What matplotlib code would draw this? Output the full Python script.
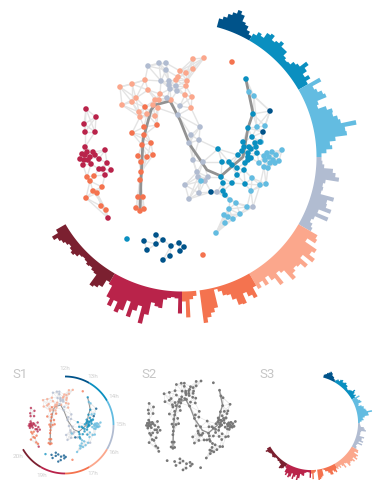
import numpy as np
import matplotlib
matplotlib.use("Agg")
import matplotlib.pyplot as plt

plt.rcParams['font.family'] = ['Roboto', 'DejaVu Sans']

# ---- radial histogram, one list per hour band (bar length in px, 1.5 degree bins)
navy_vals = [9, 12, 16, 19, 23, 20, 14, 12, 8, 5]
blue_vals = [8, 12, 10, 16, 18, 13, 15, 18, 14, 14, 9, 7, 8, 12, 14, 22, 17, 12, 16, 11]
sky_vals = [24, 14, 16, 20, 22, 12, 10, 18, 23, 22, 26, 28, 43, 31, 32, 20, 14, 16, 10, 5]
grey_vals = [5, 6, 8, 17, 20, 24, 11, 9, 10, 9, 23, 17, 18, 24, 12, 24, 11, 9, 12, 14]
salmon_vals = [22, 24, 15, 29, 26, 33, 21, 31, 25, 23, 26, 31, 18, 15, 27, 18, 12, 19, 13, 18]
orange_vals = [14, 24, 20, 15, 25, 24, 17, 11, 10, 5, 2, 20, 24, 28, 33, None, 5, 8, 26, 10]
crimson_vals = [22, 7, 6, 7, 9, 18, 17, 14, 27, 37, 20, 26, 34, 19, 30, 34, 24, 31, 24, 12]
dark_vals = [10, 18, 21, 23, 11, 10, 8, 9, 7, 6, 7, 10, 12, 10, 8, 10, 12, 14, 18, 11]

band_starts = [15, 30, 60, 90, 120, 150, 180, 210]
band_vals = [navy_vals, blue_vals, sky_vals, grey_vals, salmon_vals, orange_vals, crimson_vals, dark_vals]
band_colors = ['#00538a', '#0a8fc0', '#63bce1', '#b1bcd1', '#fba78c', '#f4734f', '#b9234a', '#7b2030']

# ---- network nodes, px position in the big picture
crimson_x = [85, 95, 85, 105, 82, 87, 93, 85, 80, 84, 90, 95, 99, 88, 83, 91, 107, 99, 103, 111, 105, 108, 86, 96, 84]
crimson_y = [132, 132, 147, 150, 154, 152, 152, 155, 159, 160, 157, 155, 159, 160, 165, 164, 163, 169, 169, 170, 175, 218, 109, 117, 124]
left_orange_x = [87, 90, 94, 102, 93, 97, 86, 101, 106]
left_orange_y = [177, 181, 176, 187, 191, 193, 198, 206, 210]
orange_x = [132, 144, 142, 151, 138, 147, 153, 141, 141, 140, 138, 143, 136, 144, 140, 145, 157, 144]
orange_y = [133, 135, 145, 143, 156, 157, 155, 162, 172, 180, 197, 197, 208, 209, 211, 107, 125, 127]
salmon_x = [120, 132, 145, 148, 136, 122, 132, 139, 140, 155, 158, 153, 155, 159, 160, 171, 185, 192, 191, 186, 187, 186, 180, 178, 176, 193, 193, 204, 147]
salmon_y = [87, 84, 80, 90, 98, 105, 102, 112, 117, 116, 108, 105, 100, 100, 94, 100, 95, 97, 108, 86, 81, 73, 71, 77, 80, 69, 59, 58, 114]
grey_x = [148, 159, 166, 166, 161, 169, 169, 170, 176, 177, 167, 180, 178, 200, 191, 199, 189, 193, 203, 197, 198, 205, 208, 185, 199, 189, 217, 253]
grey_y = [66, 63, 63, 70, 81, 81, 85, 89, 86, 91, 98, 106, 115, 127, 135, 140, 143, 160, 162, 172, 177, 181, 177, 185, 193, 199, 192, 207]
navy_x = [270, 263, 211]
navy_y = [111, 132, 192]
blue_x = [246, 253, 248, 252, 243, 255, 260, 244, 249, 251, 256, 242, 248, 238, 218, 257, 251, 248, 245, 222, 229, 232, 237, 244, 237, 221, 223, 232, 245, 223, 225, 248]
blue_y = [79, 114, 128, 137, 142, 143, 142, 147, 147, 149, 147, 151, 153, 155, 149, 153, 158, 160, 163, 162, 162, 165, 168, 170, 175, 177, 183, 183, 184, 191, 195, 157]
sky_x = [249, 254, 257, 265, 261, 282, 267, 272, 276, 264, 269, 273, 279, 259, 265, 270, 275, 264, 268, 252, 260, 266, 251, 201, 230, 236, 229, 247, 224, 228, 233, 240, 225, 216]
sky_y = [92, 96, 127, 126, 142, 150, 153, 152, 155, 156, 157, 160, 161, 163, 160, 163, 163, 167, 168, 178, 185, 184, 191, 181, 200, 203, 209, 207, 215, 217, 219, 214, 223, 233]
sea_x = [144, 156, 163, 156, 147, 171, 179, 184, 180, 170, 163]
sea_y = [241, 235, 240, 244, 250, 246, 243, 247, 251, 256, 260]

# points with no links
lone_x = [232, 127, 203]
lone_y = [62, 239, 255]
lone_colors = ['#f4734f', '#0a8fc0', '#f4734f']

# the average route through the hours
route_x = [140, 141, 143, 151, 155, 170, 180, 190, 207, 221, 243, 248, 253, 246]
route_y = [211, 180, 140, 110, 105, 101, 120, 145, 170, 176, 157, 128, 113, 80]

groups = [(crimson_x, crimson_y, '#b9234a'), (left_orange_x, left_orange_y, '#f4734f'), (orange_x, orange_y, '#f4734f'),
          (salmon_x, salmon_y, '#fba78c'), (grey_x, grey_y, '#b1bcd1'), (sky_x, sky_y, '#63bce1'),
          (blue_x, blue_y, '#0a8fc0'), (navy_x, navy_y, '#00538a'), (sea_x, sea_y, '#00538a')]

hour_labels = ['12h', '13h', '14h', '15h', '16h', '17h', '19h', '20h']
hour_angles = [0, 30, 60, 90, 120, 150, 205, 236]

W, H = 379, 480
fig = plt.figure(figsize=(W / 100, H / 100), dpi=100)


def radial_hist(cx, cy, scale):
    rmax = 190
    size = 2 * rmax * scale
    ax = fig.add_axes([(cx - size / 2) / W, (H - cy - size / 2) / H, size / W, size / H], projection='polar')
    ax.set_theta_zero_location('N')
    ax.set_theta_direction(-1)
    ax.set_rlim(0, rmax)
    ax.axis('off')
    R = 134.5
    bin_w = 1.5
    for start, vals, col in zip(band_starts, band_vals, band_colors):
        # stepped outline, one piece per run of bins (a None leaves a gap)
        run_t, run_v = [], []
        for i, v in enumerate(vals + [None]):
            if v is None:
                if run_t:
                    t = np.deg2rad(np.array(run_t))
                    r = R + np.array(run_v, dtype=float)
                    ax.fill(np.r_[t, t[::-1]], np.r_[r, np.full(len(t), R)], color=col, lw=0)
                run_t, run_v = [], []
                continue
            for sub in np.linspace(0, bin_w, 4):
                run_t.append(start + bin_w * i + sub)
                run_v.append(v)
    return ax


def find_edges(xs, ys, k=5, limit=34):
    pts = np.column_stack([xs, ys]).astype(float)
    segs = set()
    for i in range(len(pts)):
        d = np.hypot(*(pts - pts[i]).T)
        for j in np.argsort(d)[1:k + 1]:
            if d[j] < limit:
                segs.add((min(i, int(j)), max(i, int(j))))
    return [pts[[i, j]] for i, j in segs]


# the three parts of the network do not link to each other
edges = find_edges(crimson_x + left_orange_x, crimson_y + left_orange_y, k=4, limit=30)
edges += find_edges(orange_x + salmon_x + grey_x + sky_x + blue_x + navy_x,
                    orange_y + salmon_y + grey_y + sky_y + blue_y + navy_y)
edges += find_edges(sea_x, sea_y, k=2, limit=20)


def network(x0, y0, X0, Y0, scale, node_size, edge_lw, route_lw, grey_nodes=False, node_alpha=1.0):
    # axes in big picture px, shrunk so that (x0, y0) lands on (X0, Y0)
    left = X0 - scale * x0
    top = Y0 - scale * y0
    ax = fig.add_axes([left / W, (H - top - scale * H) / H, scale * W / W, scale * H / H])
    ax.set_xlim(0, W)
    ax.set_ylim(H, 0)
    ax.axis('off')
    ax.patch.set_alpha(0)
    for seg in edges:
        ax.plot(seg[:, 0], seg[:, 1], color='#e4e4e4', lw=edge_lw, zorder=1, solid_capstyle='round')
    ax.plot(route_x, route_y, color='#929292', lw=route_lw, zorder=2, solid_joinstyle='round')
    for xs, ys, col in groups:
        ax.scatter(xs, ys, s=node_size, color='#777777' if grey_nodes else col, alpha=node_alpha,
                   edgecolor='none', zorder=3)
    for x, y, col in zip(lone_x, lone_y, lone_colors):
        ax.scatter(x, y, s=node_size, color='#777777' if grey_nodes else col, alpha=node_alpha,
                   edgecolor='none', zorder=3)
    return ax


# big picture
radial_hist(182, 157, 1.0)
network(0, 0, 0, 0, 1.0, 16, 1.0, 2.0)

# S1: thin ring with hours
cx, cy, r = 65, 425, 48.5
ring = fig.add_axes([(cx - 60) / W, (H - cy - 60) / H, 120 / W, 120 / H], projection='polar')
ring.set_theta_zero_location('N')
ring.set_theta_direction(-1)
ring.set_rlim(0, 60)
ring.axis('off')
ring_starts = [0, 30, 60, 90, 120, 150, 180, 210]
for st, col in zip(ring_starts, band_colors):
    th = np.deg2rad(np.linspace(st, st + 30, 20))
    ring.plot(th, np.full(20, r), color=col, lw=1.3, solid_capstyle='butt')
network(182, 157, 65, 425, 0.355, 3.0, 0.35, 0.7, node_alpha=0.75)
for lab, ang in zip(hour_labels, hour_angles):
    a = np.deg2rad(ang)
    fig.text((cx + 56 * np.sin(a)) / W, 1 - (cy - 56 * np.cos(a)) / H, lab, color='#cfcfcf', fontsize=4.6,
             ha='center', va='center')

# S2: all grey
network(88, 158, 150, 425, 0.44, 4.0, 0.45, 1.0, grey_nodes=True)

# S3: only the histogram
radial_hist(311, 423, 0.35)

for lab, x in zip(['S1', 'S2', 'S3'], [12, 141, 259]):
    fig.text(x / W, 1 - 374 / H, lab, color='#c6c6c6', fontsize=9.5, ha='left', va='center')

fig.savefig('out.png', dpi=100)
